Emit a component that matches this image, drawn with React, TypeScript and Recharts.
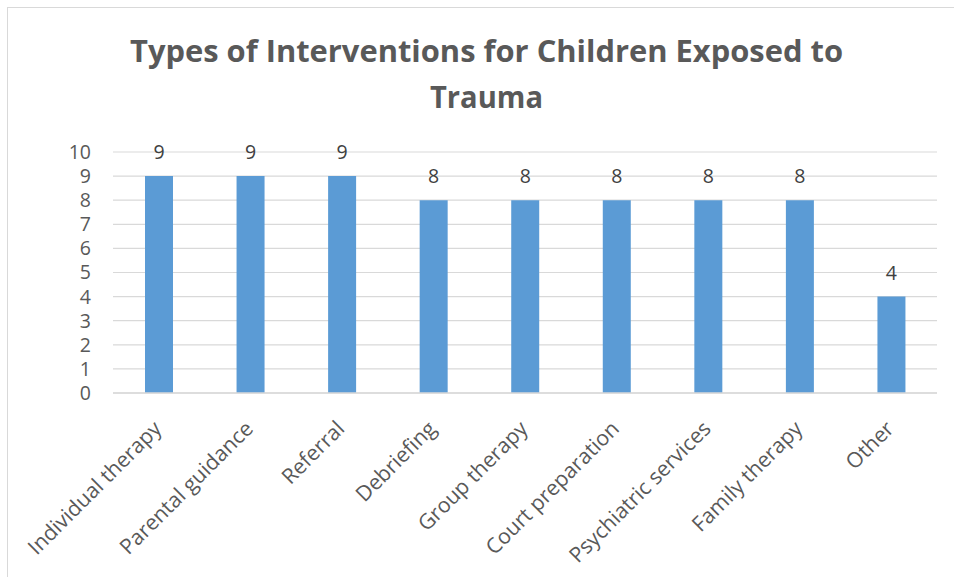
import React from "react";
import { BarChart, Bar, XAxis, YAxis, CartesianGrid, LabelList } from "recharts";

const categories = [
  "Individual therapy",
  "Parental guidance",
  "Referral",
  "Debriefing",
  "Group therapy",
  "Court preparation",
  "Psychiatric services",
  "Family therapy",
  "Other",
];
const counts = [9, 9, 9, 8, 8, 8, 8, 8, 4];
const yTicks = [0, 1, 2, 3, 4, 5, 6, 7, 8, 9, 10];
const titleLine1 = "Types of Interventions for Children Exposed to";
const titleLine2 = "Trauma";

const data = categories.map((name, i) => ({ name, value: counts[i] }));

const FONT = "'Open Sans', 'Liberation Sans', sans-serif";

const XTick = (props: any) => {
  const { x, y, payload } = props;
  const bx = x + 4;
  const by = y + 29;
  return (
    <text
      x={bx}
      y={by}
      transform={`rotate(-45, ${bx}, ${by})`}
      textAnchor="end"
      fill="#595959"
      fontSize={21.2}
      fontFamily={FONT}
    >
      {payload.value}
    </text>
  );
};

export default function App() {
  return (
    <div
      style={{
        position: "absolute",
        left: 0,
        top: 0,
        width: 954,
        height: 577,
        overflow: "hidden",
        background: "#fff",
      }}
    >
      <div
        style={{
          position: "absolute",
          left: 7,
          top: 7,
          width: 980,
          height: 620,
          border: "1.5px solid #D9D9D9",
        }}
      />
      <svg
        width={954}
        height={130}
        style={{ position: "absolute", left: 0, top: 0 }}
      >
        <text
          x={486.5}
          y={62}
          textAnchor="middle"
          fill="#595959"
          fontSize={31}
          fontWeight="bold"
          fontFamily={FONT}
          textLength={713}
          lengthAdjust="spacingAndGlyphs"
        >
          {titleLine1}
        </text>
        <text
          x={486.5}
          y={108}
          textAnchor="middle"
          fill="#595959"
          fontSize={31}
          fontWeight="bold"
          fontFamily={FONT}
          textLength={113}
          lengthAdjust="spacingAndGlyphs"
        >
          {titleLine2}
        </text>
      </svg>
      <div style={{ position: "absolute", left: 0, top: 0 }}>
        <BarChart
          width={954}
          height={577}
          data={data}
          margin={{ top: 152, right: 17, left: 0, bottom: 0 }}
        >
          <CartesianGrid vertical={false} stroke="#D9D9D9" strokeWidth={1.2} />
          <XAxis
            dataKey="name"
            interval={0}
            height={184}
            tickLine={false}
            axisLine={{ stroke: "#D9D9D9", strokeWidth: 1.5 }}
            tick={<XTick />}
          />
          <YAxis
            width={113}
            domain={[0, 10]}
            ticks={yTicks}
            interval={0}
            axisLine={false}
            tickLine={false}
            tickMargin={16}
            tick={{ fill: "#595959", fontSize: 19.5, fontFamily: FONT }}
          />
          <Bar dataKey="value" fill="#5B9BD5" barSize={28} isAnimationActive={false}>
            <LabelList
              dataKey="value"
              position="top"
              offset={17}
              fill="#404040"
              fontSize={19.5}
              fontFamily={FONT}
            />
          </Bar>
        </BarChart>
      </div>
    </div>
  );
}
